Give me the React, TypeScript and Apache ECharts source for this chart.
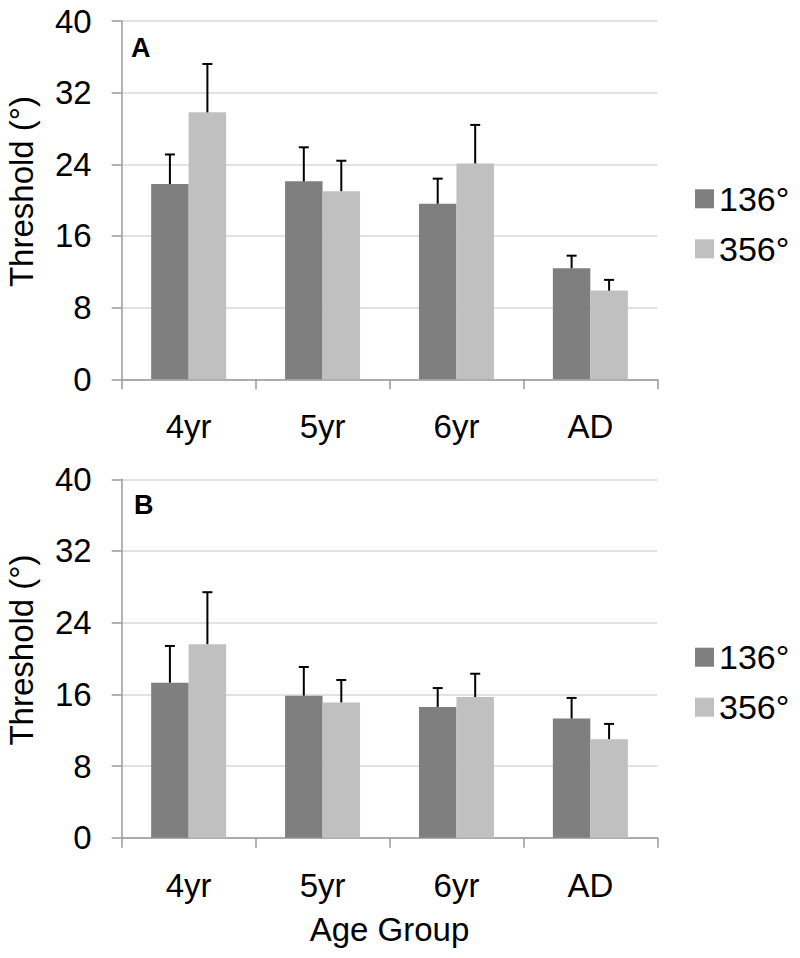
import React, { useEffect, useRef } from "react";
import * as echarts from "echarts";

const categories = ["4yr", "5yr", "6yr", "AD"];
const seriesNames = ["136°", "356°"];

// Panel A
const a136 = [21.8, 22.1, 19.6, 12.4];
const a136Err = [3.3, 3.8, 2.8, 1.4];
const a356 = [29.8, 21.0, 24.1, 9.9];
const a356Err = [5.4, 3.4, 4.3, 1.2];

// Panel B
const b136 = [17.3, 15.85, 14.6, 13.3];
const b136Err = [4.1, 3.2, 2.1, 2.3];
const b356 = [21.6, 15.1, 15.7, 11.0];
const b356Err = [5.8, 2.5, 2.6, 1.7];

const yTicks = [0, 8, 16, 24, 32, 40];
const yName = "Threshold (°)";
const xName = "Age Group";
const panelLabels = ["A", "B"];

const DARK = "#7f7f7f";
const LIGHT = "#c0c0c0";
const AXIS = "#9a9a9a";
const GRIDC = "#d9d9d9";
const FONT = "Liberation Sans, Arial, sans-serif";
const FS = 33;
const BAR_RATIO = 0.28;

function errorSeries(values: number[], errs: number[], idx: number, side: number) {
  return {
    type: "custom",
    xAxisIndex: idx,
    yAxisIndex: idx,
    silent: true,
    z: 5,
    data: values.map((v, i) => [i, v, v + errs[i]]),
    renderItem: (params: any, api: any) => {
      const band = api.size([1, 0])[0];
      const off = side * band * BAR_RATIO * 0.5;
      const p0 = api.coord([api.value(0), api.value(1)]);
      const p1 = api.coord([api.value(0), api.value(2)]);
      const x = p0[0] + off;
      const cap = 5;
      const style = { stroke: "#000", lineWidth: 2 };
      return {
        type: "group",
        children: [
          { type: "line", shape: { x1: x, y1: p0[1], x2: x, y2: p1[1] }, style },
          { type: "line", shape: { x1: x - cap, y1: p1[1], x2: x + cap, y2: p1[1] }, style },
        ],
      };
    },
  };
}

function makeAxes(idx: number, showName: boolean) {
  const x = {
    type: "category",
    gridIndex: idx,
    data: categories,
    axisLine: { show: true, lineStyle: { color: AXIS, width: 1.5 } },
    axisTick: { show: true, alignWithLabel: false, length: 10, lineStyle: { color: AXIS, width: 1.5 } },
    axisLabel: { color: "#000", fontSize: FS, lineHeight: FS, fontFamily: FONT, margin: 31 },
    name: showName ? xName : "",
    nameLocation: "middle",
    nameGap: 75,
    nameTextStyle: { color: "#000", fontSize: FS, lineHeight: FS, fontFamily: FONT },
  };
  const y = {
    type: "value",
    gridIndex: idx,
    min: 0,
    max: 40,
    interval: 8,
    axisLine: { show: true, lineStyle: { color: AXIS, width: 1.5 } },
    axisTick: { show: true, length: 10, lineStyle: { color: AXIS, width: 1.5 } },
    splitLine: { show: true, lineStyle: { color: GRIDC, width: 1.5 } },
    axisLabel: {
      color: "#000",
      fontSize: FS,
      fontFamily: FONT,
      margin: 30,
      formatter: (v: number) => (yTicks.includes(v) ? String(v) : ""),
    },
  };
  return { x, y };
}

export default function App() {
  const ref = useRef<HTMLDivElement>(null);
  useEffect(() => {
    if (!ref.current) return;
    const chart = echarts.init(ref.current, undefined, { renderer: "svg" });
    const axA = makeAxes(0, false);
    const axB = makeAxes(1, true);
    const barBase = { type: "bar", barWidth: "28%", barGap: "0%", z: 3 };
    const legendBase = {
      orient: "vertical",
      left: 695,
      itemWidth: 19,
      itemHeight: 19,
      itemGap: 16,
      itemTextGap: 8,
      icon: "rect",
      selectedMode: false,
      padding: 0,
      textStyle: { color: "#000", fontSize: 34, lineHeight: 34, fontFamily: FONT },
      data: seriesNames,
    };
    const nameStyle = {
      text: yName,
      fontSize: FS,
      fontFamily: FONT,
      fill: "#000",
      align: "center",
      verticalAlign: "middle",
    };
    const labelStyle = { fontSize: 27, fontWeight: "bold", fontFamily: FONT, fill: "#000" };
    chart.setOption({
      animation: false,
      backgroundColor: "#fff",
      grid: [
        { left: 121.7, right: 142.7, top: 21, height: 358.3 },
        { left: 121.7, right: 142.7, top: 479.3, height: 358.4 },
      ],
      xAxis: [axA.x, axB.x],
      yAxis: [axA.y, axB.y],
      legend: [
        { ...legendBase, top: 181.8 },
        { ...legendBase, top: 640.2 },
      ],
      graphic: [
        { type: "text", x: 21.5, y: 191.5, rotation: Math.PI / 2, style: nameStyle },
        { type: "text", x: 21.5, y: 650, rotation: Math.PI / 2, style: nameStyle },
        { type: "text", left: 131, top: 34.4, style: { ...labelStyle, text: panelLabels[0] } },
        { type: "text", left: 134, top: 491.4, style: { ...labelStyle, text: panelLabels[1] } },
      ],
      series: [
        { ...barBase, name: seriesNames[0], xAxisIndex: 0, yAxisIndex: 0, data: a136, itemStyle: { color: DARK } },
        { ...barBase, name: seriesNames[1], xAxisIndex: 0, yAxisIndex: 0, data: a356, itemStyle: { color: LIGHT } },
        { ...barBase, name: seriesNames[0], xAxisIndex: 1, yAxisIndex: 1, data: b136, itemStyle: { color: DARK } },
        { ...barBase, name: seriesNames[1], xAxisIndex: 1, yAxisIndex: 1, data: b356, itemStyle: { color: LIGHT } },
        errorSeries(a136, a136Err, 0, -1),
        errorSeries(a356, a356Err, 0, 1),
        errorSeries(b136, b136Err, 1, -1),
        errorSeries(b356, b356Err, 1, 1),
      ],
    });
    return () => chart.dispose();
  }, []);
  return (
    <div ref={ref} style={{ position: "absolute", left: 0, top: 0, width: 800, height: 958 }} />
  );
}
